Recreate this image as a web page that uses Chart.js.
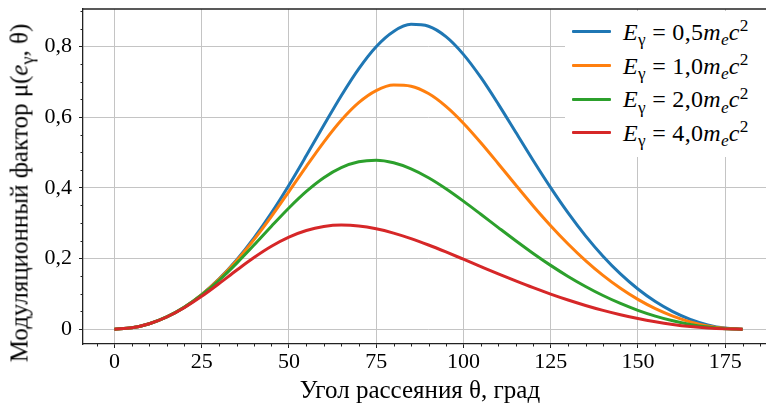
<!DOCTYPE html>
<html>
<head>
<meta charset="utf-8">
<title>Модуляционный фактор</title>
<script src="https://cdn.jsdelivr.net/npm/chart.js@4.4.1/dist/chart.umd.min.js"></script>
<style>
html, body { margin:0; padding:0; background:#fff; overflow:hidden; }
#wrap { position:relative; width:766px; height:405px; overflow:hidden; }
#chart { position:absolute; left:0; top:0; }
.serif { font-family:"Liberation Serif","Times New Roman",Times,serif; color:#000; white-space:nowrap; line-height:1; }
.ytitle {
    position:absolute; left:18.6px; top:193px; font-size:25px;
    transform:translate(-50%,-50%) rotate(-90deg);
}
.xtitle {
    position:absolute; left:420px; top:377px; font-size:25px;
    transform:translateX(-50%);
}
.lo, .hi { position:relative; font-size:0.72em; line-height:0; vertical-align:baseline; }
.lo { top:0.32em; }
.hi { top:-0.5em; }
#legend {
    position:absolute; left:565px; top:11px; width:220px; height:146px;
    background:#fff; padding-top:4px; box-sizing:border-box;
}
.row { display:flex; align-items:center; height:33.7px; }
.swatch { width:39px; height:3px; margin-left:7px; border-radius:1px; }
.txt { margin-left:12px; font-size:24px; letter-spacing:0.3px; }
</style>
</head>
<body>
<div id="wrap">
    <canvas id="chart" width="782" height="405"></canvas>
    <div class="serif ytitle">Модуляционный фактор μ(<i>e</i><span class="lo">γ</span>, θ)</div>
    <div class="serif xtitle">Угол рассеяния θ, град</div>
    <div id="legend"></div>
</div>

<script>
/* DATA */

const angles = [0,5,10,15,20,25,30,35,40,45,50,55,60,65,70,75,80,85,90,
                95,100,105,110,115,120,125,130,135,140,145,150,155,160,165,170,175,180];

const energies = ["0,5", "1,0", "2,0", "4,0"];

const mu05 = [0, 0.0038, 0.0153, 0.0346, 0.0621, 0.0979, 0.1425, 0.1960, 0.2584, 0.3292,
              0.4074, 0.4911, 0.5769, 0.6607, 0.7368, 0.7994, 0.8426, 0.8625, 0.8571, 0.8277,
              0.7776, 0.7122, 0.6369, 0.5572, 0.4773, 0.4005, 0.3290, 0.2641, 0.2065, 0.1563,
              0.1136, 0.0781, 0.0496, 0.0277, 0.0122, 0.0030, 0];

const mu10 = [0, 0.0038, 0.0153, 0.0346, 0.0620, 0.0976, 0.1416, 0.1937, 0.2533, 0.3192,
              0.3893, 0.4607, 0.5294, 0.5910, 0.6408, 0.6749, 0.6908, 0.6876, 0.6667, 0.6305,
              0.5829, 0.5276, 0.4682, 0.4078, 0.3488, 0.2929, 0.2411, 0.1941, 0.1522, 0.1157,
              0.0843, 0.0581, 0.0370, 0.0207, 0.0092, 0.0023, 0];

const mu20 = [0, 0.0038, 0.0153, 0.0346, 0.0617, 0.0965, 0.1384, 0.1862, 0.2380, 0.2913,
              0.3430, 0.3898, 0.4286, 0.4570, 0.4735, 0.4779, 0.4708, 0.4537, 0.4286, 0.3975,
              0.3624, 0.3252, 0.2874, 0.2501, 0.2143, 0.1805, 0.1492, 0.1208, 0.0952, 0.0727,
              0.0533, 0.0369, 0.0236, 0.0132, 0.0059, 0.0015, 0];

const mu40 = [0, 0.0038, 0.0153, 0.0344, 0.0606, 0.0929, 0.1291, 0.1666, 0.2026, 0.2345,
              0.2604, 0.2791, 0.2903, 0.2944, 0.2920, 0.2841, 0.2718, 0.2562, 0.2381, 0.2184,
              0.1979, 0.1771, 0.1565, 0.1365, 0.1173, 0.0993, 0.0825, 0.0671, 0.0531, 0.0408,
              0.0300, 0.0209, 0.0134, 0.0075, 0.0033, 0.0008, 0];

const xTicks = [0, 25, 50, 75, 100, 125, 150, 175];
const yTicks = [0, 0.2, 0.4, 0.6, 0.8];

const series = [mu05, mu10, mu20, mu40];
const colors = ["#1f77b4", "#ff7f0e", "#2ca02c", "#d62728"];

/* CHART */

const serifFamily = "'Liberation Serif', 'Times New Roman', Times, serif";

Chart.defaults.font.family = serifFamily;
Chart.defaults.color = "#000";

const datasets = series.map((vals, i) => ({
    label: "Eγ = " + energies[i] + "mₑc²",
    data: angles.map((a, j) => ({ x: a, y: vals[j] })),
    borderColor: colors[i],
    backgroundColor: colors[i],
    borderWidth: 3,
    pointRadius: 0,
    cubicInterpolationMode: "monotone",
    fill: false,
    order: series.length - i   // last series on top, like the original
}));

function noMargins(s){
    s.paddingTop = 0;
    s.paddingBottom = 0;
    s.paddingLeft = 0;
    s.paddingRight = 0;
}

// minor ticks + top spine
const frameAndMinor = {
    id: "frameAndMinor",
    afterDraw(chart){
        const { ctx, chartArea: a, scales: { x, y } } = chart;
        ctx.save();
        ctx.strokeStyle = "#222";
        ctx.lineWidth = 1;
        ctx.beginPath();
        for(let v = -5; v <= 185; v += 5){
            if(v % 25 === 0) continue;
            const px = Math.round(x.getPixelForValue(v)) + 0.5;
            ctx.moveTo(px, a.bottom);
            ctx.lineTo(px, a.bottom + 2.5);
        }
        for(let i = 1; i <= 18; i++){
            if(i % 4 === 0) continue;
            const py = Math.round(y.getPixelForValue(i * 0.05)) + 0.5;
            ctx.moveTo(a.left, py);
            ctx.lineTo(a.left - 2.5, py);
        }
        ctx.stroke();
        ctx.lineWidth = 1.3;
        ctx.beginPath();
        ctx.moveTo(a.left, a.top);
        ctx.lineTo(a.right + 2, a.top);
        ctx.stroke();
        ctx.restore();
    }
};

const chart = new Chart(document.getElementById("chart"), {
    type: "line",
    data: { datasets },
    options: {
        responsive: false,
        animation: false,
        devicePixelRatio: 1,
        layout: { padding: { top: 9, right: 8, left: 0, bottom: 0 } },
        plugins: {
            legend: { display: false },
            tooltip: { enabled: false }
        },
        scales: {
            x: {
                type: "linear",
                min: -9,
                max: 189,
                afterBuildTicks: s => { s.ticks = xTicks.map(v => ({ value: v })); },
                afterFit: s => { s.height = 61; noMargins(s); },
                grid: { color: "#c4c4c4", lineWidth: 1, tickLength: 4, tickColor: "#222" },
                border: { color: "#222", width: 1.3 },
                ticks: {
                    font: { family: serifFamily, size: 22 },
                    color: "#000",
                    padding: 1,
                    maxRotation: 0,
                    callback: v => String(v)
                }
            },
            y: {
                min: -0.042,
                max: 0.906,
                afterBuildTicks: s => { s.ticks = yTicks.map(v => ({ value: v })); },
                afterFit: s => { s.width = 83; noMargins(s); },
                grid: { color: "#c4c4c4", lineWidth: 1, tickLength: 4, tickColor: "#222" },
                border: { color: "#222", width: 1.3 },
                ticks: {
                    font: { family: serifFamily, size: 22 },
                    color: "#000",
                    padding: 7,
                    callback: v => v === 0 ? "0" : v.toFixed(1).replace(".", ",")
                }
            }
        }
    },
    plugins: [frameAndMinor]
});

// redraw once the serif face is surely available to the canvas
document.fonts.load("22px 'Liberation Serif'").then(() => chart.update()).catch(() => {});

/* HTML LEGEND (needs italics, sub- and superscripts) */

const legend = document.getElementById("legend");

chart.data.datasets.forEach((ds, i) => {
    const row = document.createElement("div");
    row.className = "row";
    row.innerHTML = `
        <div class="swatch" style="background:${ds.borderColor}"></div>
        <div class="serif txt"><i>E</i><span class="lo">γ</span> = ${energies[i]}<i>m</i><span class="lo"><i>e</i></span><i>c</i><span class="hi">2</span></div>
    `;
    legend.appendChild(row);
});
</script>
</body>
</html>
